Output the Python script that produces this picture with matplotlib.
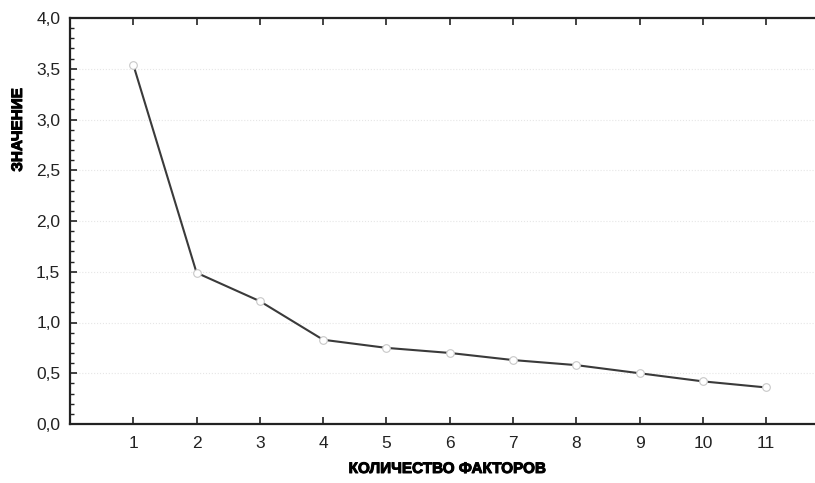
import matplotlib
matplotlib.use("Agg")
import matplotlib.pyplot as plt
from matplotlib.ticker import MultipleLocator, FuncFormatter
import matplotlib.patheffects as pe

factors = [1, 2, 3, 4, 5, 6, 7, 8, 9, 10, 11]
values = [3.54, 1.49, 1.21, 0.83, 0.75, 0.70, 0.63, 0.58, 0.50, 0.42, 0.36]
x_label = "КОЛИЧЕСТВО ФАКТОРОВ"
y_label = "ЗНАЧЕНИЕ"

plt.rcParams['font.family'] = ['Liberation Sans', 'DejaVu Sans']

fig = plt.figure(figsize=(8.15, 4.83), dpi=100)
ax = fig.add_axes([70/815, 1-424/483, (815-70)/815 + 0.01, (424-18)/483])

ax.plot(factors, values, color='#3a3a3a', lw=1.5, marker='o', ms=5.5,
        mfc='white', mec='#c8c8c8', mew=0.8, zorder=3)

ax.set_xlim(0, 11.9)
ax.set_ylim(0, 4.0)
ax.set_xticks(factors)
ax.yaxis.set_major_locator(MultipleLocator(0.5))
ax.yaxis.set_minor_locator(MultipleLocator(0.1))
ax.yaxis.set_major_formatter(FuncFormatter(lambda v, p: f"{v:.1f}".replace('.', ',')))
ax.grid(axis='y', which='major', color='#e6e6e6', ls=':', lw=0.8)
ax.set_axisbelow(True)

for s in ['left', 'bottom', 'top']:
    ax.spines[s].set_linewidth(1.6)
    ax.spines[s].set_color('#222222')
ax.spines['right'].set_visible(False)

ax.tick_params(axis='both', which='major', direction='in', length=5, width=1.2,
               labelsize=12.5, colors='#222222', top=True)
ax.tick_params(axis='y', which='minor', direction='in', length=3, width=1.0, colors='#222222')
ax.tick_params(axis='x', pad=9)
ax.tick_params(axis='y', pad=7)

heavy = [pe.withStroke(linewidth=0.7, foreground='black')]
fig.text(447/815, 1-469/483, x_label, fontsize=11, fontweight='bold',
         ha='center', va='center', path_effects=heavy)
fig.text(18/815, 1-130/483, y_label, fontsize=11, fontweight='bold', rotation=90,
         ha='center', va='center', path_effects=heavy)

fig.savefig("out.png", dpi=100)
